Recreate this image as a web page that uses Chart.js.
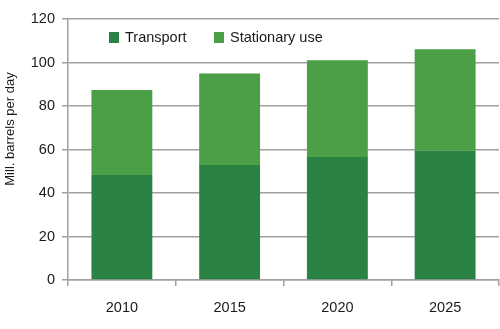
<!DOCTYPE html>
<html>
<head>
<meta charset="utf-8">
<script src="https://cdn.jsdelivr.net/npm/chart.js@4"></script>
<style>
  html, body { margin: 0; padding: 0; background: #fff; }
  #wrap { width: 500px; height: 329px; }
</style>
</head>
<body>
<div id="wrap"><canvas id="oilChart"></canvas></div>
<script>
// ── Data ────────────────────────────────────────────────────────────────────
const years      = ['2010', '2015', '2020', '2025'];
const transport  = [48.3, 52.9, 56.6, 59.4];
const stationary = [39.1, 42.1, 44.4, 46.7];
const yTicks     = [0, 20, 40, 60, 80, 100, 120];

const FONT = "'Liberation Sans', Arial, sans-serif";
const GRID = '#a0a0a0';

// Legend drawn inside the plot area, top-left
const innerLegend = {
  id: 'innerLegend',
  afterDatasetsDraw(chart) {
    const ctx = chart.ctx;
    const spots = [{ box: 109, text: 125 }, { box: 214, text: 230 }];
    ctx.save();
    ctx.font = '14.5px ' + FONT;
    ctx.textBaseline = 'middle';
    chart.data.datasets.forEach((ds, i) => {
      ctx.fillStyle = ds.backgroundColor;
      ctx.fillRect(spots[i].box, 32, 10, 11);
      ctx.fillStyle = '#1a1a1a';
      ctx.fillText(ds.label, spots[i].text, 38);
    });
    ctx.restore();
  }
};

// Y-axis title, sits a bit above the plot middle like the original
const yTitle = {
  id: 'yTitle',
  afterDraw(chart) {
    const ctx = chart.ctx;
    ctx.save();
    ctx.translate(10, 129);
    ctx.rotate(-Math.PI / 2);
    ctx.font = '13px ' + FONT;
    ctx.fillStyle = '#1a1a1a';
    ctx.textAlign = 'center';
    ctx.textBaseline = 'middle';
    ctx.fillText('Mill. barrels per day', 0, 0);
    ctx.restore();
  }
};

new Chart(document.getElementById('oilChart'), {
  type: 'bar',
  data: {
    labels: years,
    datasets: [
      { label: 'Transport',      data: transport,  backgroundColor: '#2a8343',
        categoryPercentage: 1, barPercentage: 0.565 },
      { label: 'Stationary use', data: stationary, backgroundColor: '#4a9f47',
        categoryPercentage: 1, barPercentage: 0.565 }
    ]
  },
  options: {
    responsive: true,
    maintainAspectRatio: false,
    animation: false,
    layout: { padding: { top: 19, right: 1, left: 0, bottom: 0 } },
    plugins: {
      legend: { display: false },
      tooltip: { enabled: false }
    },
    scales: {
      x: {
        stacked: true,
        afterFit: s => { s.height = 49; },
        grid: { drawOnChartArea: false, drawTicks: true, tickLength: 6, color: GRID, lineWidth: 1.5 },
        border: { color: GRID, width: 1.5 },
        ticks: { color: '#1a1a1a', padding: 13, font: { family: FONT, size: 14.5 } }
      },
      y: {
        stacked: true,
        min: 0,
        max: 120,
        afterFit: s => { s.width = 68; },
        afterBuildTicks: s => { s.ticks = yTicks.map(v => ({ value: v })); },
        grid: { color: GRID, lineWidth: 1.5, tickLength: 6 },
        border: { color: GRID, width: 1.5 },
        ticks: { color: '#1a1a1a', padding: 7, font: { family: FONT, size: 14.5 } }
      }
    }
  },
  plugins: [innerLegend, yTitle]
});
</script>
</body>
</html>
